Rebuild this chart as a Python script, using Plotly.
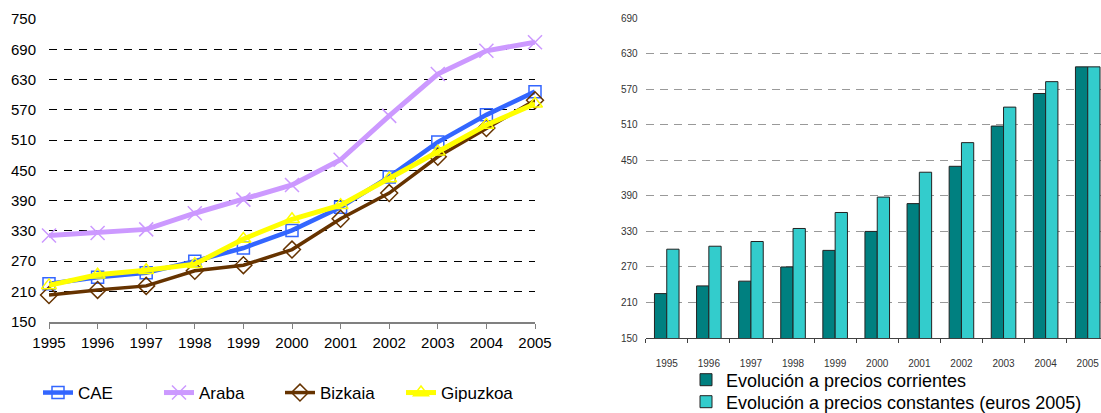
import plotly.graph_objects as go

years = [1995, 1996, 1997, 1998, 1999, 2000, 2001, 2002, 2003, 2004, 2005]
year_labels = [str(y) for y in years]

cae = [225, 238, 247, 270, 296, 331, 377, 437, 506, 560, 606]
araba = [321, 326, 333, 365, 392, 421, 471, 558, 641, 687, 704]
bizkaia = [203, 213, 221, 251, 262, 293, 354, 405, 477, 534, 589]
gipuzkoa = [222, 243, 252, 264, 314, 353, 381, 434, 487, 540, 582]

corrientes = [225, 238, 246, 270, 298, 330, 377, 440, 508, 563, 608]
constantes = [300, 305, 313, 335, 362, 388, 430, 480, 540, 583, 608]

left_ticks = [150, 210, 270, 330, 390, 450, 510, 570, 630, 690, 750]
right_ticks = [150, 210, 270, 330, 390, 450, 510, 570, 630, 690]

W, H = 1101, 413
FONT = "Arial, Liberation Sans, sans-serif"

fig = go.Figure()

series = [
    ("CAE", cae, "#3366FF", "square-open", 4.5, 12),
    ("Araba", araba, "#CC99FF", "x-thin-open", 5, 14),
    ("Bizkaia", bizkaia, "#663300", "diamond-open", 3.5, 13),
    ("Gipuzkoa", gipuzkoa, "#FFFF00", "triangle-up-open", 5, 13),
]
for name, vals, col, sym, lw, ms in series:
    fig.add_trace(go.Scatter(
        x=years, y=vals, name=name, mode="lines+markers",
        line=dict(color=col, width=lw),
        marker=dict(symbol=sym, size=ms, color=col, line=dict(color=col, width=1.5)),
        cliponaxis=False, xaxis="x", yaxis="y", legend="legend",
    ))

fig.add_trace(go.Bar(
    x=year_labels, y=corrientes, name="Evolución a precios corrientes",
    marker=dict(color="#008080", line=dict(color="#222222", width=1)),
    xaxis="x2", yaxis="y2", legend="legend2",
))
fig.add_trace(go.Bar(
    x=year_labels, y=constantes, name="Evolución a precios constantes (euros 2005)",
    marker=dict(color="#33CCCC", line=dict(color="#222222", width=1)),
    xaxis="x2", yaxis="y2", legend="legend3",
))

leg_common = dict(font=dict(size=18, color="black"), bgcolor="rgba(0,0,0,0)",
                  xanchor="left", yanchor="middle")

fig.update_layout(
    width=W, height=H, autosize=False,
    margin=dict(l=0, r=0, t=0, b=0, autoexpand=False),
    paper_bgcolor="white", plot_bgcolor="white",
    font=dict(family=FONT, color="black"),
    barmode="group", bargap=0.416, bargroupgap=0,
    xaxis=dict(
        domain=[49 / W, 535 / W], range=[1995, 2005], anchor="y", automargin=False,
        tickvals=years, ticktext=year_labels,
        showgrid=False, zeroline=False,
        showline=True, linecolor="#808080", linewidth=2,
        ticks="outside", ticklen=5, tickcolor="#808080", tickwidth=1,
        ticklabelstandoff=1,
        tickfont=dict(size=15, color="black"),
    ),
    yaxis=dict(
        domain=[1 - 321.7 / H, 1 - 19 / H], range=[150, 750], anchor="x", automargin=False,
        tickvals=left_ticks,
        showgrid=True, gridcolor="black", gridwidth=1, griddash="8px,7px",
        zeroline=False, showline=False, ticks="",
        ticklabelstandoff=12,
        tickfont=dict(size=15, color="black"),
    ),
    xaxis2=dict(
        domain=[645.7 / W, 1.0], range=[-0.5, 10.315], type="category", anchor="y2",
        automargin=False,
        tickson="boundaries", ticks="outside", ticklen=4, tickcolor="#404040",
        showgrid=False, zeroline=False,
        showline=True, linecolor="#404040", linewidth=1,
        ticklabelstandoff=16,
        tickfont=dict(size=10, color="#333333"),
    ),
    yaxis2=dict(
        domain=[1 - 338 / H, 1 - 18.3 / H], range=[150, 690], anchor="x2", automargin=False,
        tickvals=right_ticks,
        showgrid=True, gridcolor="#999999", gridwidth=1, griddash="8px,6px",
        zeroline=False, showline=False, ticks="",
        ticklabelstandoff=7,
        tickfont=dict(size=10, color="#333333"),
    ),
    legend=dict(
        orientation="h", x=38 / W, y=1 - 393 / H, xanchor="left", yanchor="middle",
        entrywidth=76, entrywidthmode="pixels",
        font=dict(size=17, color="black"), bgcolor="rgba(0,0,0,0)",
    ),
    legend2=dict(x=686 / W, y=1 - 380 / H, **leg_common),
    legend3=dict(x=686 / W, y=1 - 402 / H, **leg_common),
    showlegend=True,
)

fig.write_html("out.html", post_script="document.body.style.margin='0';",
               config={"displayModeBar": False})
